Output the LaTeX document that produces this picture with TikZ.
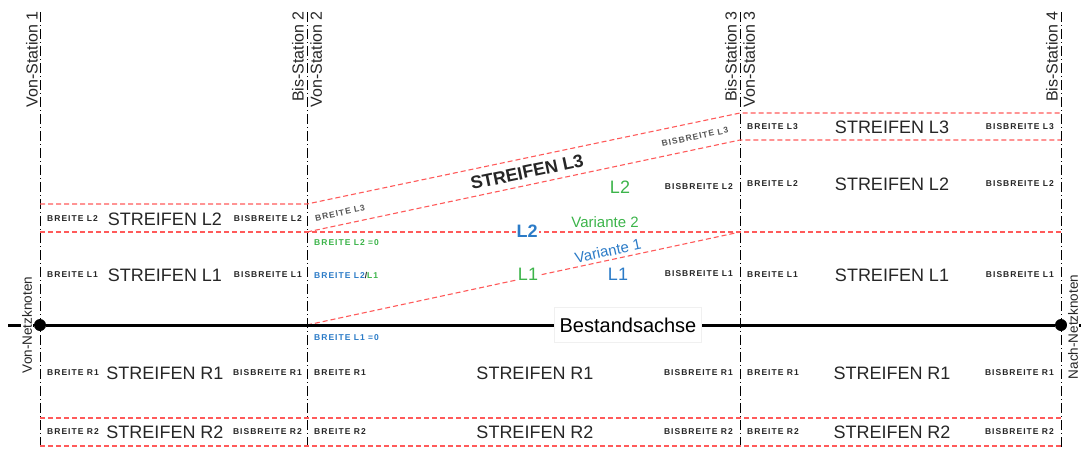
\documentclass[tikz,border=0pt]{standalone}
\usepackage{fontspec}
\setmainfont{Liberation Sans}
\newfontfamily\cadfont[LetterSpace=12]{Liberation Sans}
\definecolor{strip}{HTML}{FF5A5A}
\definecolor{varblue}{HTML}{2B7BC7}
\definecolor{vargreen}{HTML}{3CB44A}
\definecolor{labgray}{HTML}{555555}

\begin{document}
\begin{tikzpicture}[x=1pt, y=-1pt,
  every node/.style={inner sep=1pt},
  station/.style={line width=0.8pt, dash pattern=on 10pt off 3pt on 1pt off 3pt},
  stripline/.style={strip, line width=1.1pt, dash pattern=on 5pt off 3pt},
  axis/.style={line width=3pt},
  stalabel/.style={rotate=90, font=\fontsize{16}{16}\selectfont, text=black!85},
  wlabel/.style={font=\cadfont\bfseries\fontsize{8.5}{9}\selectfont, text=black!85},
  sname/.style={font=\fontsize{18}{18}\selectfont, text=black!85},
  knot/.style={circle, fill=black, minimum size=12pt, inner sep=0pt}]
  \useasboundingbox (0,0) rectangle (1081,448);

  % stations
  \foreach \x in {40,307,740,1061} \draw[station] (\x,12) -- (\x,448);
  \node[stalabel, anchor=south east] (von1) at (39,10) {Von-Station 1};
  \node[stalabel, anchor=south east] (bis2) at (305,10) {Bis-Station 2};
  \node[stalabel, anchor=north east] (von2) at (309,10) {Von-Station 2};
  \node[stalabel, anchor=south east] (bis3) at (738,10) {Bis-Station 3};
  \node[stalabel, anchor=north east] (von3) at (742,10) {Von-Station 3};
  \node[stalabel, anchor=south east] (bis4) at (1059,10) {Bis-Station 4};

  % strip borders
  \draw[stripline] (40,204) -- (307,204) -- (740,113) -- (1061,113);
  \draw[stripline] (307,232) -- (740,140) -- (1061,140);
  \draw[stripline] (40,232) -- (1061,232);
  \draw[stripline] (307,325) -- (740,232);
  \draw[stripline] (40,418) -- (1061,418);
  \draw[stripline] (40,446) -- (1061,446);

  % axis
  \node[knot] (vonk) at (40,325) {};
  \node[knot] (nachk) at (1061,325) {};
  \draw[axis] (8,325) -- (vonk) -- (nachk) -- (1081,325);
  \node[fill=white, draw=black!6, font=\fontsize{20}{20}\selectfont, inner xsep=5pt, minimum height=35pt] (achse) at (628,325) {Bestandsachse};
  \node[rotate=90, fill=white, font=\fontsize{13.5}{13.5}\selectfont, text=black!85] (vonnk) at (27,325) {Von-Netzknoten};
  \node[rotate=90, fill=white, font=\fontsize{13.5}{13.5}\selectfont, text=black!85] (nachnk) at (1073,327) {Nach-Netzknoten};

  % section 1 and 3
  \foreach \y/\s in {219/L2, 275/L1, 373/R1, 432/R2} {
    \node[wlabel, anchor=west] (b1\s) at (46,\y) {BREITE \s};
    \node[sname] (s1\s) at (165,\y) {STREIFEN \s};
    \node[wlabel, anchor=east] (e1\s) at (303,\y) {BISBREITE \s};
  }
  \foreach \y/\s in {127/L3, 184/L2, 275/L1, 373/R1, 432/R2} {
    \node[wlabel, anchor=west] (b3\s) at (746,\y) {BREITE \s};
    \node[sname] (s3\s) at (892,\y) {STREIFEN \s};
    \node[wlabel, anchor=east] (e3\s) at (1055,\y) {BISBREITE \s};
  }

  % section 2
  \foreach \y/\s in {373/R1, 432/R2} {
    \node[wlabel, anchor=west] (b2\s) at (313,\y) {BREITE \s};
    \node[sname] (s2\s) at (535,\y) {STREIFEN \s};
    \node[wlabel, anchor=east] (e2\s) at (734,\y) {BISBREITE \s};
  }
  \foreach \y/\s in {187/L2, 274/L1} \node[wlabel, anchor=east] (e2\s) at (734,\y) {BISBREITE \s};
  \node[wlabel, text=labgray, rotate=11.9] (b2L3) at (340,213) {BREITE L3};
  \node[font=\bfseries\fontsize{18}{18}\selectfont, text=black!85, rotate=11.9] (s2L3) at (527,172) {STREIFEN L3};
  \node[wlabel, text=labgray, rotate=11.9] (e2L3) at (695,137) {BISBREITE L3};
  \node[wlabel, text=vargreen, anchor=west] (b2L2) at (313,243) {BREITE L2 =0};
  \node[wlabel, anchor=west] (b2L21) at (313,275) {\textcolor{varblue}{BREITE L2}/\textcolor{vargreen}{L1}};
  \node[wlabel, text=varblue, anchor=west] (b2L1) at (313,338) {BREITE L1 =0};

  % variants
  \node[sname, text=vargreen] (gL2) at (620,187) {L2};
  \node[font=\bfseries\fontsize{18}{18}\selectfont, text=varblue, fill=white] (bL2) at (527,231) {L2};
  \node[font=\fontsize{15}{15}\selectfont, text=vargreen] (var2) at (605,222) {Variante 2};
  \node[font=\fontsize{15}{15}\selectfont, text=varblue, rotate=12.1] (var1) at (608,251) {Variante 1};
  \node[sname, text=vargreen, fill=white] (gL1) at (528,274) {L1};
  \node[sname, text=varblue] (bL1) at (618,274) {L1};
\end{tikzpicture}
\end{document}
